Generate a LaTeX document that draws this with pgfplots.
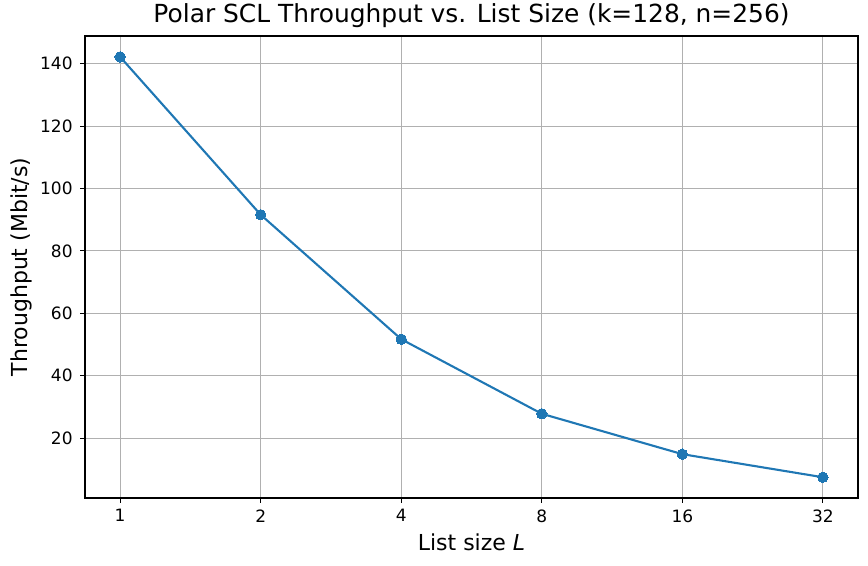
\documentclass[border=0pt]{standalone}
\usepackage{fontspec}
\setmainfont{DejaVu Sans}
\usepackage{pgfplots}
\pgfplotsset{compat=1.18}
\definecolor{mplblue}{HTML}{1F77B4}
\definecolor{mplgrid}{HTML}{B0B0B0}
\newcommand\tl[1]{\mbox{\fontsize{17bp}{20bp}\selectfont #1}}
\begin{document}
\begin{tikzpicture}[x=1bp,y=1bp]
\path[use as bounding box] (0,0) rectangle (868,566);
\begin{axis}[
  at={(85bp,68bp)}, anchor=south west,
  scale only axis, width=773bp, height=462bp,
  xmode=log, log basis x=2,
  xmin=0.8409, xmax=38.05,
  ymin=0.8, ymax=148.9,
  xtick={1,2,4,8,16,32},
  xticklabels={\tl{1},\tl{2},\tl{4},\tl{8},\tl{16},\tl{32}},
  ytick={20,40,60,80,100,120,140},
  yticklabels={\tl{20},\tl{40},\tl{60},\tl{80},\tl{100},\tl{120},\tl{140}},
  /pgf/number format/assume math mode=true,
  grid=major,
  major grid style={mplgrid, line width=1.1bp},
  axis line style={black, line width=1.1bp},
  tick style={black, line width=1.1bp},
  tick align=outside,
  major tick length=4.9bp,
  xtick pos=bottom, ytick pos=left,
  xticklabel style={yshift=-3bp},
  yticklabel style={xshift=-4bp},
  xlabel={List size \textit{L}},
  ylabel={Throughput (Mbit/s)},
  label style={font=\fontsize{22bp}{25bp}\selectfont},
  xlabel style={at={(axis description cs:0.5,0)}, anchor=base, yshift=-52.7bp},
  ylabel style={at={(axis description cs:0,0.5)}, anchor=base, yshift=57.3bp},
  title={Polar SCL Throughput vs. List Size (k=128, n=256)},
  title style={font=\fontsize{24.9bp}{28bp}\selectfont, at={(axis description cs:0.5,1)}, anchor=base, yshift=7.7bp},
]
\addplot[mplblue, line width=2.1bp, mark=*, mark size=5.2bp, mark options={fill=mplblue, draw=mplblue, line width=0pt}]
coordinates {
(1,142.2) (2,91.6) (4,51.7) (8,27.8) (16,14.85) (32,7.45)
};
\end{axis}
\end{tikzpicture}
\end{document}
